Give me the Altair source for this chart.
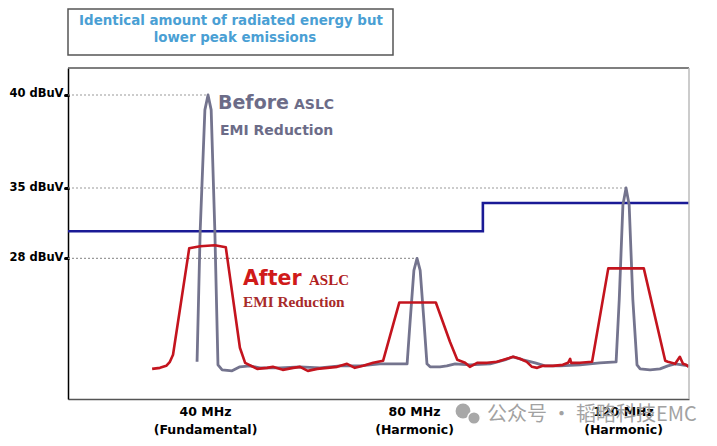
import altair as alt
import pandas as pd

# ---------------- data ----------------
# "Before ASLC" spectrum (MHz, dBuV)
before_mhz = [37.9, 38.5, 39.4, 40.0, 40.6, 41.3, 41.9, 42.7, 44.6, 46.1, 48.0, 49.9,
              53.8, 57.6, 61.4, 65.3, 69.1, 72.9, 75.8, 78.1, 78.7, 79.4, 80.0, 80.6,
              81.3, 81.9, 82.5, 84.4, 85.7, 87.3, 90.1, 94.0, 96.8, 98.4, 100.3, 102.6,
              104.5, 107.4, 111.2, 115.0, 118.1, 118.7, 119.4, 120.0, 120.6, 121.3, 122.1,
              122.7, 124.6, 126.5, 128.0, 129.4, 130.7, 132.0]
before_db = [17.7, 30.8, 39.2, 40.0, 39.2, 30.8, 17.4, 16.9, 16.8, 17.2, 17.3, 17.1,
             17.1, 17.2, 17.1, 17.3, 17.3, 17.5, 17.5, 17.5, 21.9, 26.8, 28.0, 26.8,
             21.9, 17.5, 17.2, 17.2, 17.3, 17.5, 17.4, 17.5, 17.9, 18.2, 17.9, 17.6,
             17.3, 17.3, 17.4, 17.6, 17.7, 23.9, 33.3, 35.0, 33.3, 23.9, 17.4,
             17.0, 16.9, 17.0, 17.3, 17.5, 17.4, 17.3]

# "After ASLC" spectrum (MHz, dBuV)
after_mhz = [29.3, 30.8, 32.0, 32.7, 33.3, 36.4, 38.5, 41.3, 43.4, 46.1, 47.1, 49.4,
             51.3, 52.4, 54.3, 56.3, 57.6, 59.1, 60.9, 62.8, 64.7, 66.6, 68.1, 69.7,
             71.6, 73.5, 76.6, 83.6, 86.3, 87.7, 89.2, 90.1, 91.5, 93.4, 95.3, 97.2,
             98.4, 99.7, 101.0, 102.0, 103.0, 104.1, 106.0, 107.9, 108.9, 109.3, 109.5,
             111.2, 113.5, 116.6, 123.4, 127.5, 128.0, 129.4, 130.3, 130.9, 131.5, 132.0]
after_db = [17.0, 17.1, 17.3, 17.7, 18.4, 29.0, 29.2, 29.3, 29.1, 19.1, 17.6, 17.0,
            17.1, 17.2, 16.9, 17.1, 17.2, 16.8, 17.0, 17.1, 17.2, 17.5, 17.1, 17.3,
            17.6, 17.8, 23.6, 23.6, 19.7, 17.9, 17.6, 17.2, 17.6, 17.6, 17.7, 18.0,
            18.2, 18.0, 17.7, 17.2, 17.1, 17.3, 17.3, 17.4, 17.6, 18.0, 17.6,
            17.6, 17.7, 27.0, 27.0, 17.8, 17.7, 17.5, 18.2, 17.5, 17.4, 17.2]

# emission limit (step)
limit_mhz = [13.2, 92.6, 92.6, 132.05]
limit_db = [30.7, 30.7, 33.5, 33.5]

# dotted reference levels and where they end
ref_level_db = [40, 35, 28]
ref_end_mhz = [40.0, 120.0, 80.0]

# axis ticks
y_ticks = [28, 35, 40]
x_ticks = [40, 80, 120]
x_tick_main = ["40 MHz", "80 MHz", "120 MHz"]
x_tick_sub = ["(Fundamental)", "(Harmonic)", "(Harmonic)"]

title_lines = ["Identical amount of radiated energy but", "lower peak emissions"]
watermark = "公众号 · 韬略科技EMC"

assert len(before_mhz) == len(before_db)
assert len(after_mhz) == len(after_db)

# ---------------- chart ----------------
W, H = 621, 331
X_DOMAIN = [13.2, 132.05]
xs = alt.Scale(domain=X_DOMAIN, nice=False, zero=False)
ys = alt.Scale(domain=[14, 35, 41.45], range=[H, 120, 0], nice=False, zero=False)

before = pd.DataFrame({"f": before_mhz, "db": before_db, "i": range(len(before_mhz))})
after = pd.DataFrame({"f": after_mhz, "db": after_db, "i": range(len(after_mhz))})
limit = pd.DataFrame({"f": limit_mhz, "db": limit_db, "i": range(len(limit_mhz))})
refs = pd.DataFrame({"f0": [X_DOMAIN[0]] * len(ref_level_db), "f1": ref_end_mhz, "db": ref_level_db})
one = pd.DataFrame({"a": [0]})

expr = ""
for v, m, s in zip(x_ticks, x_tick_main, x_tick_sub):
    expr += f"datum.value == {v} ? ['{m}', '{s}'] : "
expr += "''"

x_axis = alt.Axis(values=x_ticks, labelExpr=expr, title=None, ticks=False, grid=False,
                  labelFont="DejaVu Sans", labelFontWeight="bold", labelFontSize=12.5,
                  labelColor="black", labelLineHeight=18, labelPadding=6, labelOffset=-3,
                  labelOverlap=False, labelFlush=False, domainColor="#555", domainWidth=1.5)
y_axis = alt.Axis(values=y_ticks, labelExpr="datum.value + ' dBuV'", title=None, grid=False,
                  labelFont="DejaVu Sans", labelFontWeight="bold", labelFontSize=11.5,
                  labelColor="black", labelPadding=2, labelBaseline="alphabetic", labelOffset=2,
                  tickColor="black", tickSize=3, tickWidth=3, tickCap="round",
                  domainColor="black", domainWidth=1.5, labelOverlap=False, labelFlush=False)

base_x = alt.X("f:Q", scale=xs, axis=x_axis)
base_y = alt.Y("db:Q", scale=ys, axis=y_axis)

grid = alt.Chart(refs).mark_rule(color="#9a9a9a", strokeWidth=1.2, strokeDash=[2, 2]).encode(
    x=alt.X("f0:Q", scale=xs, axis=x_axis), x2="f1:Q", y=alt.Y("db:Q", scale=ys, axis=y_axis))

lim = alt.Chart(limit).mark_line(color="#1a1a96", strokeWidth=2.6).encode(
    x=base_x, y=base_y, order="i:Q")

bef = alt.Chart(before).mark_line(color="#74748e", strokeWidth=2.8, strokeJoin="round").encode(
    x=base_x, y=base_y, order="i:Q")

aft = alt.Chart(after).mark_line(color="#c4141e", strokeWidth=2.6, strokeJoin="round").encode(
    x=base_x, y=base_y, order="i:Q")


def txt(s, x, y, size, color, font="DejaVu Sans", weight="bold", align="left", baseline="alphabetic"):
    return alt.Chart(one).mark_text(text=s, font=font, fontSize=size, fontWeight=weight, color=color,
                                    align=align, baseline=baseline).encode(x=alt.value(x), y=alt.value(y))


before_col = "#6c6c88"
ann = [
    txt("Before", 150, 41, 19, before_col),
    txt("ASLC", 226, 41, 14, before_col),
    txt("EMI Reduction", 152, 67, 14, before_col),
    txt("After", 175, 217, 20.5, "#d01a1a"),
    txt("ASLC", 241, 217, 15, "#b02020", font="Liberation Serif"),
    txt("EMI Reduction", 175, 239, 15.3, "#a82a2a", font="Liberation Serif"),
]

box = alt.Chart(one).mark_rect(fill="white", stroke="#555", strokeWidth=1.5).encode(
    x=alt.value(0), x2=alt.value(325), y=alt.value(-59), y2=alt.value(-13))
t1 = txt(title_lines[0], 163, -47, 13.4, "#4a9fd4", align="center", baseline="middle")
t2 = txt(title_lines[1], 167, -30, 13.4, "#4a9fd4", align="center", baseline="middle")

top_rule = alt.Chart(one).mark_rule(color="#555", strokeWidth=1.5).encode(
    x=alt.value(0), x2=alt.value(W), y=alt.value(0))
right_rule = alt.Chart(one).mark_rule(color="#bbbbbb", strokeWidth=1.5).encode(
    x=alt.value(W), y=alt.value(0), y2=alt.value(H))

icon1 = alt.Chart(one).mark_point(filled=True, shape="circle", size=220, color="#a8a8a8", opacity=1).encode(
    x=alt.value(395), y=alt.value(343))
icon2 = alt.Chart(one).mark_point(filled=True, shape="circle", size=160, color="#a8a8a8", opacity=1,
                                  stroke="white", strokeWidth=1.5).encode(
    x=alt.value(406), y=alt.value(350))
wm = txt(watermark, 419, 347, 20, "#a2a2a2", font="Noto Sans CJK SC", weight="normal", baseline="middle")

chart = alt.layer(grid, lim, bef, aft, *ann, box, t1, t2, top_rule, right_rule, icon1, icon2, wm).properties(
    width=W, height=H,
    autosize=alt.AutoSizeParams(type="none"),
    padding={"left": 60, "top": 60, "right": 20, "bottom": 38},
    background="white",
).configure_view(stroke=None)

chart.save("out.html", embed_options={"renderer": "svg", "actions": False})
